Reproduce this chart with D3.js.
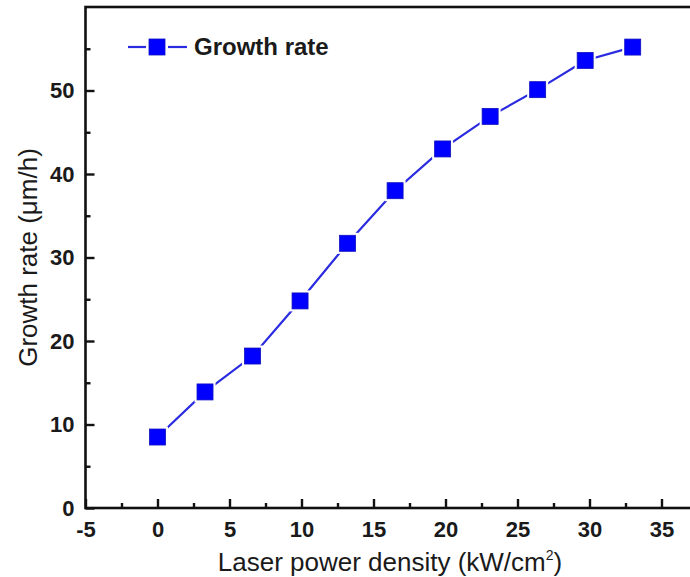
<!DOCTYPE html>
<html>
<head>
<meta charset="utf-8">
<script src="https://cdn.jsdelivr.net/npm/d3@7"></script>
<style>
  html, body { margin: 0; padding: 0; background: #ffffff; }
  svg { display: block; font-family: "Liberation Sans", Arial, sans-serif; }
</style>
</head>
<body>
<svg id="chart" width="690" height="577"></svg>
<script>
// Laser power density (kW/cm^2) and measured growth rate (µm/h)
const powerDensity = [0, 3.3, 6.6, 9.9, 13.2, 16.5, 19.8, 23.1, 26.4, 29.7, 33.0];
const growthRate   = [8.5, 13.9, 18.2, 24.8, 31.7, 38.0, 43.0, 46.9, 50.1, 53.6, 55.2];
const xMajorTicks  = [-5, 0, 5, 10, 15, 20, 25, 30, 35];
const yMajorTicks  = [0, 10, 20, 30, 40, 50];
const seriesName   = "Growth rate";

const svg = d3.select("#chart");

const x = d3.scaleLinear().domain([-5, 40]).range([85.5, 733.5]);
const y = d3.scaleLinear().domain([0, 60]).range([508, 7]);

const blue = "#0000ff";
const lineBlue = "#2a2ae0";
const ink = "#1a1a1a";
const plainNum = d => String(d); // ASCII hyphen for negatives

// plot frame (right side runs past the canvas edge)
svg.append("rect")
  .attr("x", x(-5)).attr("y", y(60))
  .attr("width", x(40) - x(-5)).attr("height", y(0) - y(60))
  .attr("fill", "none").attr("stroke", "#111").attr("stroke-width", 2.6);

// x axis: inward ticks, major every 5, minor every 2.5
const xAxis = d3.axisBottom(x).tickValues(xMajorTicks).tickSize(-9).tickPadding(13)
  .tickFormat(plainNum);
const gx = svg.append("g").attr("transform", `translate(0,${y(0)})`).call(xAxis);
gx.select(".domain").remove();
gx.selectAll(".tick line").attr("stroke", "#111").attr("stroke-width", 2.4);
gx.selectAll(".tick text").attr("fill", ink).attr("font-size", 22).attr("font-weight", "bold");
const xMinor = d3.axisBottom(x).tickValues(d3.range(-2.5, 40, 5)).tickSize(-5).tickFormat("");
const gxm = svg.append("g").attr("transform", `translate(0,${y(0)})`).call(xMinor);
gxm.select(".domain").remove();
gxm.selectAll(".tick line").attr("stroke", "#111").attr("stroke-width", 2.4);

// y axis
const yAxis = d3.axisLeft(y).tickValues(yMajorTicks).tickSize(-9).tickPadding(11)
  .tickFormat(plainNum);
const gy = svg.append("g").attr("transform", `translate(${x(-5)},0)`).call(yAxis);
gy.select(".domain").remove();
gy.selectAll(".tick line").attr("stroke", "#111").attr("stroke-width", 2.4);
gy.selectAll(".tick text").attr("fill", ink).attr("font-size", 22).attr("font-weight", "bold");
const yMinor = d3.axisLeft(y).tickValues(d3.range(5, 60, 10)).tickSize(-5).tickFormat("");
const gym = svg.append("g").attr("transform", `translate(${x(-5)},0)`).call(yMinor);
gym.select(".domain").remove();
gym.selectAll(".tick line").attr("stroke", "#111").attr("stroke-width", 2.4);

// axis titles
const xt = svg.append("text")
  .attr("x", 390).attr("y", 571).attr("text-anchor", "middle")
  .attr("font-size", 26).attr("fill", ink);
xt.append("tspan").text("Laser power density (kW/cm");
xt.append("tspan").attr("font-size", 14).attr("dy", -11).text("2");
xt.append("tspan").attr("dy", 11).text(")");

svg.append("text")
  .attr("transform", `translate(37,${(y(0) + y(60)) / 2}) rotate(-90)`)
  .attr("text-anchor", "middle").attr("font-size", 26).attr("fill", ink)
  .text("Growth rate (\u03bcm/h)");

// data line and square markers
const pts = powerDensity.map((d, i) => [d, growthRate[i]]);
const line = d3.line().x(d => x(d[0])).y(d => y(d[1]));
svg.append("path").datum(pts)
  .attr("d", line).attr("fill", "none")
  .attr("stroke", lineBlue).attr("stroke-width", 2.2);

const ms = 16;
svg.append("g").selectAll("rect").data(pts).join("rect")
  .attr("x", d => x(d[0]) - ms / 2).attr("y", d => y(d[1]) - ms / 2)
  .attr("width", ms).attr("height", ms)
  .attr("fill", "#ffffff").attr("stroke", "#ffffff").attr("stroke-width", 5);
svg.append("g").selectAll("rect").data(pts).join("rect")
  .attr("x", d => x(d[0]) - ms / 2).attr("y", d => y(d[1]) - ms / 2)
  .attr("width", ms).attr("height", ms)
  .attr("fill", blue).attr("stroke", "#1010c0").attr("stroke-width", 0.8);

// legend
const lg = svg.append("g").attr("transform", "translate(157,47)");
lg.append("line").attr("x1", -29).attr("x2", -11).attr("stroke", lineBlue).attr("stroke-width", 2.2);
lg.append("line").attr("x1", 11).attr("x2", 30).attr("stroke", lineBlue).attr("stroke-width", 2.2);
lg.append("rect").attr("x", -8).attr("y", -8).attr("width", 16).attr("height", 16)
  .attr("fill", blue).attr("stroke", "#1010c0").attr("stroke-width", 0.8);
lg.append("text").attr("x", 37).attr("y", 8).attr("font-size", 24).attr("font-weight", "bold")
  .attr("fill", ink).text(seriesName);
</script>
</body>
</html>
